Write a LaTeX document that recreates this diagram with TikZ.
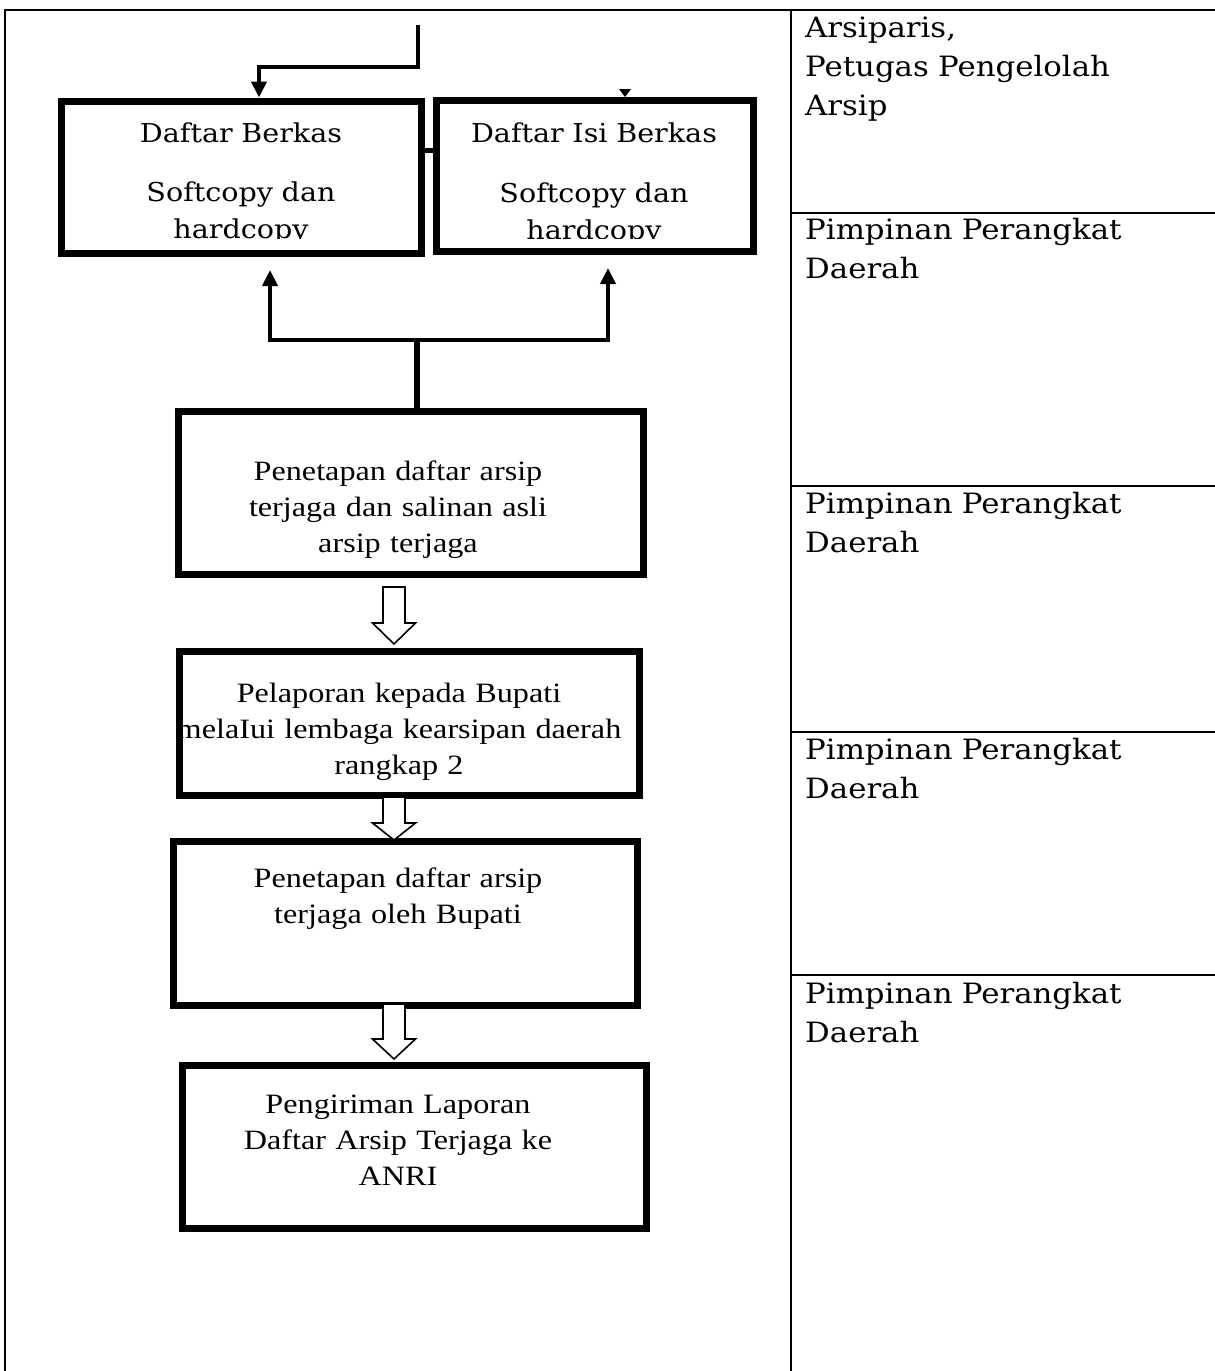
\documentclass[tikz,border=0pt]{standalone}
\usepackage{fontspec}
\usetikzlibrary{arrows.meta,calc}
\newfontfamily\tmfont[FakeStretch=1.15]{Liberation Serif}
\newfontfamily\bkfont[FakeStretch=1.1]{DejaVu Serif}
\begin{document}
\begin{tikzpicture}[x=1pt,y=-1pt,
  frame/.style={line width=2pt,black},
  flowbox/.style={draw,rectangle,line width=7pt,inner sep=0pt},
  wire/.style={line width=4.5pt},
  tip/.style={-{Triangle[width=15pt,length=16pt]}},
  hollow/.style={draw,line width=1.6pt,fill=white,line join=miter},
  boxtext/.style={inner sep=0pt,anchor=base,text width=480pt,align=center,
    font=\tmfont\fontsize{28}{36}\selectfont},
  toptext/.style={inner sep=0pt,anchor=base,text width=340pt,align=center,
    font=\bkfont\fontsize{26}{37}\selectfont},
  roletext/.style={inner sep=0pt,anchor=base west,text width=400pt,align=left,
    font=\bkfont\fontsize{28}{39}\selectfont}]
\useasboundingbox (0,0) rectangle (1215,1371);

% table frame
\draw[frame] (5,1371) -- (5,10) -- (1215,10);
\draw[frame] (791,10) -- (791,1371);
\foreach \yy in {213,486,732,975} \draw[frame] (791,\yy) -- (1215,\yy);

% role texts
\node[roletext] (r1) at (805,37) {Arsiparis,\\Petugas Pengelolah\\Arsip};
\node[roletext] (r2) at (805,239) {Pimpinan Perangkat\\Daerah};
\node[roletext] (r3) at (805,513) {Pimpinan Perangkat\\Daerah};
\node[roletext] (r4) at (805,759) {Pimpinan Perangkat\\Daerah};
\node[roletext] (r5) at (805,1003) {Pimpinan Perangkat\\Daerah};

% top boxes
\node[flowbox,minimum width=360pt,minimum height=152pt] (b1) at (241,177) {};
\node[flowbox,minimum width=317pt,minimum height=151pt] (b2) at (594.5,175.5) {};
\begin{scope}
  \clip (60,100) rectangle (760,238);
  \node[toptext] (t1a) at (241,142) {Daftar Berkas};
  \node[toptext] (t1b) at (241,201) {Softcopy dan\\hardcopy};
  \node[toptext] (t2a) at (594,142) {Daftar Isi Berkas};
  \node[toptext] (t2b) at (594,202) {Softcopy dan\\hardcopy};
\end{scope}
\draw[line width=5pt] ([yshift=27pt]b1.east) -- ([yshift=25.5pt]b2.west);
\fill (619,89) -- (631,89) -- (625,97) -- cycle;

% incoming wire
\coordinate (w0) at (418,25);
\coordinate (w1) at (259,67);
\draw[wire,tip] (w0) |- (w1) -- (w1 |- b1.north);

% box 3
\node[flowbox,minimum width=465pt,minimum height=163.5pt] (b3) at (411,492.75) {};
\node[boxtext] (t3) at (398,480) {Penetapan daftar arsip\\terjaga dan salinan asli\\arsip terjaga};

% split wires
\coordinate (s0) at (417,340);
\coordinate (tl) at (270,270);
\coordinate (tr) at (608,268);
\draw[line width=6pt] (b3.north -| s0) -- (s0);
\draw[line width=4pt,tip] (s0) -| (tl);
\draw[line width=4pt,tip] (s0) -| (tr);

% box 4
\node[flowbox,minimum width=460pt,minimum height=144.5pt] (b4) at (409,723.25) {};
\node[boxtext] (t4) at (399,702) {Pelaporan kepada Bupati\\melaIui lembaga kearsipan daerah\\rangkap 2};

% box 5
\node[flowbox,minimum width=463.5pt,minimum height=164pt] (b5) at (405.25,923) {};
\node[boxtext] (t5) at (398,887) {Penetapan daftar arsip\\terjaga oleh Bupati};

% box 6
\node[flowbox,minimum width=464.5pt,minimum height=163pt] (b6) at (414.25,1146.5) {};
\node[boxtext] (t6) at (398,1113) {Pengiriman Laporan\\Daftar Arsip Terjaga ke\\ANRI};

% hollow arrows
\newcommand\hollowarrow[4]{%
  \draw[hollow] (#1-11,#2) -- (#1-11,#3) -- (#1-21.5,#3) -- (#1,#4)
    -- (#1+21.5,#3) -- (#1+11,#3) -- (#1+11,#2) -- cycle;}
\hollowarrow{394}{587}{623}{644}
\hollowarrow{394}{797}{823}{840}
\hollowarrow{394}{1004}{1039}{1059}
\end{tikzpicture}
\end{document}
